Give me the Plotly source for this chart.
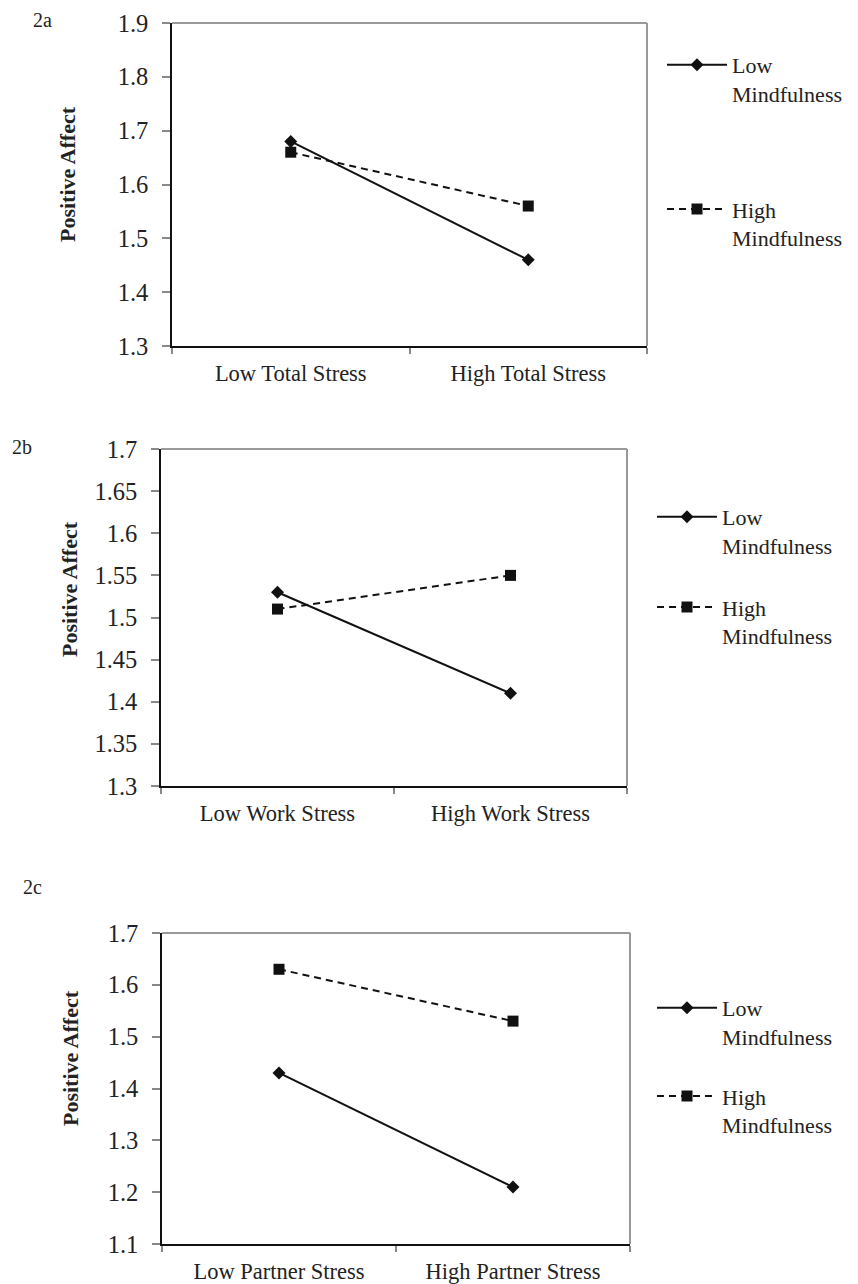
import plotly.graph_objects as go

# ---------------- data ----------------
categories_a = ["Low Total Stress", "High Total Stress"]
categories_b = ["Low Work Stress", "High Work Stress"]
categories_c = ["Low Partner Stress", "High Partner Stress"]

low_mind_a = [1.68, 1.46]
high_mind_a = [1.66, 1.56]
low_mind_b = [1.53, 1.41]
high_mind_b = [1.51, 1.55]
low_mind_c = [1.43, 1.21]
high_mind_c = [1.63, 1.53]

yticks_a = [1.3, 1.4, 1.5, 1.6, 1.7, 1.8, 1.9]
yticktext_a = ["1.3", "1.4", "1.5", "1.6", "1.7", "1.8", "1.9"]
yticks_b = [1.3, 1.35, 1.4, 1.45, 1.5, 1.55, 1.6, 1.65, 1.7]
yticktext_b = ["1.3", "1.35", "1.4", "1.45", "1.5", "1.55", "1.6", "1.65", "1.7"]
yticks_c = [1.1, 1.2, 1.3, 1.4, 1.5, 1.6, 1.7]
yticktext_c = ["1.1", "1.2", "1.3", "1.4", "1.5", "1.6", "1.7"]

panel_labels = ["2a", "2b", "2c"]
series_names = ["Low<br>Mindfulness", "High<br>Mindfulness"]
y_title = "Positive Affect"

# ---------------- layout helpers ----------------
OFF = 8                      # default page body margin
W, H = 858 - OFF, 1284 - OFF
FONT = "Liberation Serif, Times New Roman, serif"
INK = "#111111"
TXT = "#222222"

def fx(px):
    return (px - OFF) / W

def fy(py):
    return 1 - (py - OFF) / H

# plot boxes in page pixels: (left, top, right, bottom)
boxes = [(172, 23, 647, 346), (161, 449, 627, 786), (162, 933, 630, 1244)]
legend_pos = [(662, 44), (652, 496), (652, 987)]
legend_gap = [84, 30, 28]
label_pos = [(42, 8, "top"), (22, 447, "middle"), (32, 887, "middle")]
title_pos = [(67, 174), (69, 589), (70, 1058)]

panels = [
    (categories_a, low_mind_a, high_mind_a, yticks_a, yticktext_a),
    (categories_b, low_mind_b, high_mind_b, yticks_b, yticktext_b),
    (categories_c, low_mind_c, high_mind_c, yticks_c, yticktext_c),
]

fig = go.Figure()
layout = dict(
    width=W, height=H,
    margin=dict(l=0, r=0, t=0, b=0, pad=0),
    paper_bgcolor="white", plot_bgcolor="white",
    font=dict(family=FONT, color=TXT),
    showlegend=True,
)
shapes = []
annotations = []

for i, (cats, low, high, yt, ytt) in enumerate(panels):
    n = "" if i == 0 else str(i + 1)
    xa, ya = "x" + n, "y" + n
    leg = "legend" + n
    l, t, r, b = boxes[i]

    fig.add_trace(go.Scatter(
        x=cats, y=low, mode="lines+markers", name=series_names[0],
        line=dict(color=INK, width=2),
        marker=dict(symbol="diamond", size=10, color=INK),
        xaxis=xa, yaxis=ya, legend=leg, legendgroup=f"low{i}",
    ))
    fig.add_trace(go.Scatter(
        x=cats, y=high, mode="lines+markers", name=series_names[1],
        line=dict(color=INK, width=2, dash="7px,5px"),
        marker=dict(symbol="square", size=11, color=INK),
        xaxis=xa, yaxis=ya, legend=leg, legendgroup=f"high{i}",
    ))

    layout["xaxis" + n] = dict(
        domain=[fx(l), fx(r)], anchor=ya, type="category",
        range=[-0.5, 1.5], tickson="boundaries", automargin=False,
        ticks="outside", ticklen=6, tickcolor="#888888", tickwidth=1.5,
        showline=True, linecolor=INK, linewidth=1.5,
        showgrid=False, zeroline=False, fixedrange=True,
        tickfont=dict(family=FONT, size=22.5, color=TXT),
        ticklabelstandoff=6,
    )
    layout["yaxis" + n] = dict(
        domain=[fy(b), fy(t)], anchor=xa, automargin=False,
        range=[yt[0], yt[-1]], tickvals=yt, ticktext=ytt,
        ticks="outside", ticklen=8, tickcolor="#888888", tickwidth=1.5,
        showline=True, linecolor=INK, linewidth=1.5,
        showgrid=False, zeroline=False, fixedrange=True,
        tickfont=dict(family=FONT, size=24.5, color=TXT),
        ticklabelstandoff=9,
    )
    # grey top and right frame
    shapes.append(dict(type="line", xref=xa + " domain", yref=ya + " domain",
                       x0=0, x1=1, y0=1, y1=1, line=dict(color="#999999", width=2)))
    shapes.append(dict(type="line", xref=xa + " domain", yref=ya + " domain",
                       x0=1, x1=1, y0=0, y1=1, line=dict(color="#999999", width=2)))

    lx, ly = legend_pos[i]
    layout[leg] = dict(
        x=fx(lx), y=fy(ly), xanchor="left", yanchor="top",
        bgcolor="rgba(0,0,0,0)", borderwidth=0,
        font=dict(family=FONT, size=22, color=TXT),
        valign="top", traceorder="grouped", tracegroupgap=legend_gap[i],
        itemwidth=60,
    )

    px_, py_, anc = label_pos[i]
    annotations.append(dict(text=panel_labels[i], xref="paper", yref="paper",
                            x=fx(px_), y=fy(py_), xanchor="center", yanchor=anc,
                            showarrow=False, borderpad=0,
                            font=dict(family=FONT, size=20, color=TXT)))
    tx, ty = title_pos[i]
    annotations.append(dict(text="<b>" + y_title + "</b>", xref="paper", yref="paper",
                            x=fx(tx), y=fy(ty), xanchor="center", yanchor="middle",
                            textangle=-90, showarrow=False,
                            font=dict(family=FONT, size=22, color=TXT)))

layout["shapes"] = shapes
layout["annotations"] = annotations
fig.update_layout(**layout)
fig.write_html("out.html")
